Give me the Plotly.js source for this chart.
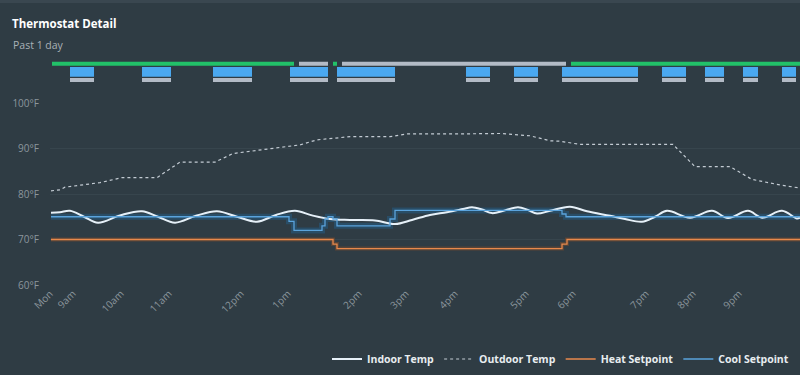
<!DOCTYPE html>
<html>
<head>
<meta charset="utf-8">
<script src="https://cdn.plot.ly/plotly-3.0.1.min.js"></script>
<style>
  html, body { margin: 0; padding: 0; background: #2f3c44; }
  #chart { width: 800px; height: 375px; }
</style>
</head>
<body>
<div id="chart"></div>
<script>
// ---- Time axis (chart time units) and tick labels ----
const tickPositions = [0, 4.6, 14.2, 23.8, 38.2, 47.6, 61.8, 71.2, 81, 95.2, 104.6, 119.2, 128.6, 137.8];
const tickLabels = ["Mon", "9am", "10am", "11am", "12pm", "1pm", "2pm", "3pm", "4pm", "5pm", "6pm", "7pm", "8pm", "9pm"];
const yTickValues = [60, 70, 80, 90, 100];
const yTickLabels = ["60°F", "70°F", "80°F", "90°F", "100°F"];

// ---- Indoor temperature ----
const indoorT = [0.2, 2, 4, 6.8, 9.6, 14, 18.4, 21.6, 25, 29.2, 33.4, 37.4, 41.4, 45.2, 49, 52.4, 56, 60, 65, 69, 72.4, 76, 79.4, 82.6, 84.4, 86.4, 88.4, 91, 93.6, 95.6, 97.4, 100, 104, 107.4, 112, 115, 118.4, 121, 123.4, 128, 132.4, 135.6, 139.6, 142.4, 146.4, 149.4, 150];
const indoorTemp = [75.9, 76.0, 76.3, 75.0, 73.7, 75.3, 76.2, 75.0, 73.7, 75.2, 76.2, 75.0, 73.9, 75.4, 76.3, 75.3, 74.5, 74.3, 74.2, 73.4, 74.3, 75.4, 76.0, 76.7, 77.1, 76.6, 75.8, 76.4, 77.1, 76.5, 75.7, 76.3, 77.2, 76.2, 75.2, 74.5, 73.9, 75.0, 76.3, 74.8, 76.3, 74.7, 76.3, 74.8, 76.3, 74.6, 74.8];

// ---- Outdoor temperature ----
const outdoorT = [0.2, 2, 3, 10, 14.4, 21.4, 26, 33, 36.6, 42, 50, 53.4, 60, 68, 71.4, 81.4, 90, 96, 100, 102, 106, 124.6, 129, 136, 140.4, 146, 150];
const outdoorTemp = [80.7, 80.9, 81.5, 82.5, 83.6, 83.6, 87.0, 87.0, 88.9, 89.7, 90.8, 91.9, 92.6, 92.6, 93.2, 93.2, 93.3, 92.8, 91.7, 91.6, 90.9, 90.9, 86.0, 86.0, 83.2, 82.0, 81.3];

// ---- Heat setpoint ----
const heatT = [0.2, 56.6, 57.4, 102.4, 103.4, 150];
const heatSetpoint = [70, 69, 68, 69, 70, 70];

// ---- Cool setpoint ----
const coolT = [0.2, 47.8, 48.8, 54.4, 55, 55.6, 56.6, 57.4, 68, 69, 102.4, 103.2, 150];
const coolSetpoint = [75, 74, 72, 73, 74.5, 75, 74.5, 73, 74.5, 76.4, 75.6, 75, 75];

// ---- Equipment state timeline (start / end) ----
const modeOnStart = [0.4, 56.6, 104.2];
const modeOnEnd   = [48.8, 57.4, 150];
const modeOffStart = [49.8, 58.4];
const modeOffEnd   = [55.6, 103.2];
const coolingStart = [4, 18.4, 32.6, 48, 57.4, 83.2, 92.8, 102.4, 122.4, 131, 138.6, 146.4];
const coolingEnd   = [8.8, 24.2, 40.4, 55.6, 69, 88, 97.6, 117.6, 127.2, 134.8, 141.6, 149.2];

const rows = ["Fan", "Cooling", "Mode"];

function spans(starts, ends) { return ends.map((e, i) => e - starts[i]); }
function rep(v, n) { return Array(n).fill(v); }

const labelFont = { family: "'Open Sans', sans-serif", size: 10, color: "#8c969d" };

const traces = [
  // timeline bars
  { type: "bar", orientation: "h", xaxis: "x", yaxis: "y2", y: rep("Mode", modeOnStart.length),
    base: modeOnStart, x: spans(modeOnStart, modeOnEnd), width: 0.5,
    marker: { color: "#22c169" }, showlegend: false, hoverinfo: "skip" },
  { type: "bar", orientation: "h", xaxis: "x", yaxis: "y2", y: rep("Mode", modeOffStart.length),
    base: modeOffStart, x: spans(modeOffStart, modeOffEnd), width: 0.5,
    marker: { color: "#b3bbc6" }, showlegend: false, hoverinfo: "skip" },
  { type: "bar", orientation: "h", xaxis: "x", yaxis: "y2", y: rep("Cooling", coolingStart.length),
    base: coolingStart, x: spans(coolingStart, coolingEnd), width: 1.2,
    marker: { color: "#4aa8f0" }, showlegend: false, hoverinfo: "skip" },
  { type: "bar", orientation: "h", xaxis: "x", yaxis: "y2", y: rep("Fan", coolingStart.length),
    base: coolingStart, x: spans(coolingStart, coolingEnd), width: 0.5,
    marker: { color: "#b3bbc6" }, showlegend: false, hoverinfo: "skip" },

  // setpoint glow bands
  { type: "scatter", mode: "lines", x: heatT, y: heatSetpoint, line: { shape: "hv", color: "rgba(120,75,45,0.55)", width: 4 },
    showlegend: false, hoverinfo: "skip" },
  { type: "scatter", mode: "lines", x: coolT, y: coolSetpoint, line: { shape: "hv", color: "rgba(38,88,125,0.6)", width: 6 },
    showlegend: false, hoverinfo: "skip" },

  // main series
  { type: "scatter", mode: "lines", name: "Indoor Temp", x: indoorT, y: indoorTemp,
    line: { color: "#e6f0f8", width: 2, shape: "spline", smoothing: 1 } },
  { type: "scatter", mode: "lines", name: "Outdoor Temp", x: outdoorT, y: outdoorTemp,
    line: { color: "#c3cbd3", width: 1.2, dash: "dot" } },
  { type: "scatter", mode: "lines", name: "Heat Setpoint", x: heatT, y: heatSetpoint,
    line: { color: "#e8894c", width: 1.3, shape: "hv" } },
  { type: "scatter", mode: "lines", name: "Cool Setpoint", x: coolT, y: coolSetpoint,
    line: { color: "#5aa3dc", width: 1.3, shape: "hv" } }
];

const layout = {
  width: 800, height: 375,
  margin: { l: 0, r: 0, t: 0, b: 0 },
  paper_bgcolor: "#2f3c44",
  plot_bgcolor: "#2f3c44",
  font: { family: "'Open Sans', sans-serif", color: "#e8edf0" },
  barmode: "overlay",
  hovermode: false,
  title: {
    text: "<b>Thermostat Detail</b>",
    x: 12 / 800, xanchor: "left", xref: "container",
    y: 1 - 24 / 375, yanchor: "middle", yref: "container",
    font: { family: "'Open Sans', sans-serif", size: 11.5, color: "#ffffff" }
  },
  annotations: [
    { text: "Past 1 day", xref: "paper", yref: "paper", x: 11 / 800, y: 1 - 45 / 375,
      xanchor: "left", yanchor: "middle", showarrow: false,
      font: { family: "'Open Sans', sans-serif", size: 10.5, color: "#a9b1b7" } }
  ],
  xaxis: {
    domain: [50 / 800, 1], range: [0, 150], fixedrange: true,
    tickmode: "array", tickvals: tickPositions, ticktext: tickLabels,
    tickangle: -45, tickfont: labelFont,
    showgrid: false, zeroline: false, showline: false, ticks: ""
  },
  yaxis: {
    domain: [90 / 375, 272 / 375], range: [60, 100],
    tickmode: "array", tickvals: yTickValues, ticktext: yTickLabels,
    ticklabelstandoff: 10,
    tickfont: labelFont, showgrid: true, gridcolor: "#37454d", gridwidth: 1,
    zeroline: false, showline: false, ticks: ""
  },
  yaxis2: {
    domain: [0.7757, 0.8411], anchor: "x", type: "category",
    categoryorder: "array", categoryarray: rows, range: [-0.5, 2.5],
    showticklabels: false, showgrid: false, zeroline: false, showline: false
  },
  legend: {
    orientation: "h", x: 1 - 6 / 800, xanchor: "right", y: 1 - 359 / 375, yanchor: "middle",
    xref: "paper", yref: "paper",
    bgcolor: "rgba(0,0,0,0)", itemwidth: 30,
    font: { family: "'Open Sans', sans-serif", size: 10.5, color: "#e8edf0", weight: "bold" }
  },
  shapes: [
    { type: "rect", xref: "paper", yref: "paper", x0: 0, x1: 1, y0: 1 - 3 / 375, y1: 1,
      fillcolor: "#3a4750", line: { width: 0 } }
  ]
};

Plotly.newPlot("chart", traces, layout, { displayModeBar: false, staticPlot: true });
</script>
</body>
</html>
